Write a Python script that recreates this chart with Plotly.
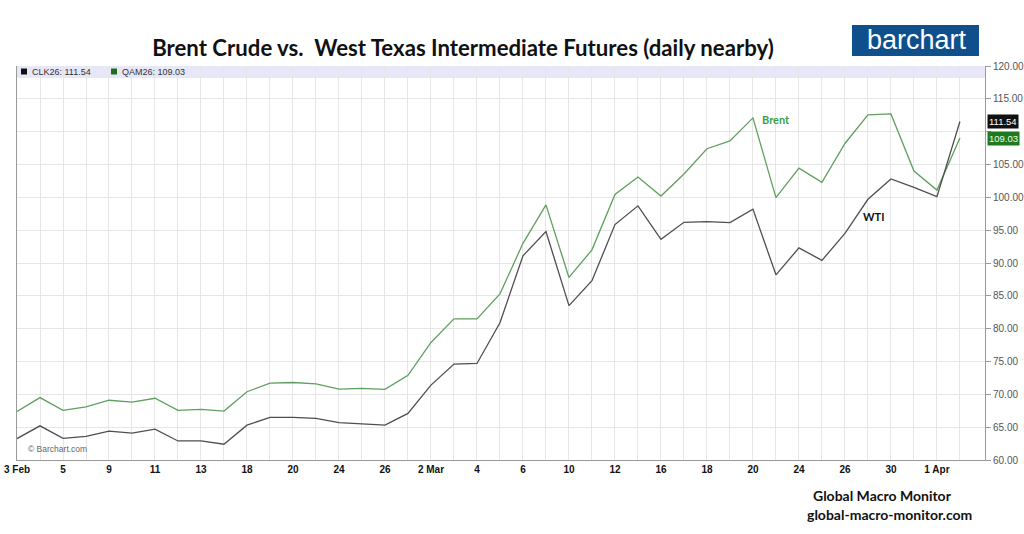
import plotly.graph_objects as go

dates = ["2026-02-03", "2026-02-04", "2026-02-05", "2026-02-06", "2026-02-09", "2026-02-10",
         "2026-02-11", "2026-02-12", "2026-02-13", "2026-02-17", "2026-02-18", "2026-02-19",
         "2026-02-20", "2026-02-23", "2026-02-24", "2026-02-25", "2026-02-26", "2026-02-27",
         "2026-03-02", "2026-03-03", "2026-03-04", "2026-03-05", "2026-03-06", "2026-03-09",
         "2026-03-10", "2026-03-11", "2026-03-12", "2026-03-13", "2026-03-16", "2026-03-17",
         "2026-03-18", "2026-03-19", "2026-03-20", "2026-03-23", "2026-03-24", "2026-03-25",
         "2026-03-26", "2026-03-27", "2026-03-30", "2026-03-31", "2026-04-01", "2026-04-02"]

brent = [67.4, 69.5, 67.55, 68.1, 69.1, 68.8, 69.4, 67.55, 67.7, 67.45, 70.4, 71.7,
         71.8, 71.6, 70.8, 70.9, 70.75, 72.9, 77.9, 81.5, 81.5, 85.3, 93.0, 98.85,
         87.8, 92.0, 100.45, 103.1, 100.2, 103.55, 107.4, 108.6, 112.1, 99.95, 104.45, 102.3,
         108.2, 112.55, 112.7, 104.0, 101.1, 109.03]

wti = [63.26, 65.2, 63.3, 63.6, 64.4, 64.1, 64.7, 62.9, 62.9, 62.4, 65.3, 66.5,
       66.5, 66.35, 65.7, 65.5, 65.3, 67.1, 71.4, 74.6, 74.7, 80.9, 91.1, 94.8,
       83.5, 87.3, 95.85, 98.7, 93.6, 96.2, 96.3, 96.15, 98.2, 88.2, 92.3, 90.4,
       94.5, 99.7, 102.8, 101.5, 100.1, 111.54]

tick_labels = ["3 Feb", "", "5", "", "9", "", "11", "", "13", "", "18", "", "20", "", "24", "",
               "26", "", "2 Mar", "", "4", "", "6", "", "10", "", "12", "", "16", "", "18", "",
               "20", "", "24", "", "26", "", "30", "", "1 Apr", ""]

y_ticks = [60, 65, 70, 75, 80, 85, 90, 95, 100, 105, 110, 115, 120]
y_hidden = [110]  # covered by the last-value boxes in the reference

title_text = "Brent Crude vs.  West Texas Intermediate Futures (daily nearby)"
wti_code = "CLK26"
brent_code = "QAM26"

BRENT_COLOR = "#5f9f5f"
WTI_COLOR = "#4f4f4f"
GRID = "#e6e6e6"
AXIS = "#9a9a9a"

# plot area in page pixels
L, R, T, B = 17, 985, 66, 460
W, H = 1024, 534
PW, PH = R - L, B - T


def px(x):
    return (x - L) / PW


def py(y):
    return (B - y) / PH


fig = go.Figure()
fig.add_trace(go.Scatter(x=dates, y=brent, mode="lines", name="Brent",
                         line=dict(color=BRENT_COLOR, width=1.3)))
fig.add_trace(go.Scatter(x=dates, y=wti, mode="lines", name="WTI",
                         line=dict(color=WTI_COLOR, width=1.3)))

# legend band at top of plot area
fig.add_shape(type="rect", xref="paper", yref="paper", x0=0, x1=1, y0=py(78), y1=1.0,
              fillcolor="#e7e7f8", line=dict(width=0), layer="below")
# legend squares
fig.add_shape(type="rect", xref="paper", yref="paper", x0=px(21), x1=px(27), y0=py(74.5), y1=py(68.5),
              fillcolor="#111111", line=dict(width=0))
fig.add_shape(type="rect", xref="paper", yref="paper", x0=px(111), x1=px(117), y0=py(74.5), y1=py(68.5),
              fillcolor="#1f6b1f", line=dict(width=0))

# barchart logo box
fig.add_shape(type="rect", xref="paper", yref="paper",
              x0=px(852), x1=px(979), y0=py(56), y1=py(25),
              fillcolor="#0e4f8c", line=dict(width=0))

annotations = [
    dict(text=f"{wti_code}: {wti[-1]:.2f}", xref="paper", yref="paper", x=px(30), y=py(71.5),
         xanchor="left", yanchor="middle", showarrow=False,
         font=dict(family="Liberation Sans, Arial", size=9, color="#333333")),
    dict(text=f"{brent_code}: {brent[-1]:.2f}", xref="paper", yref="paper", x=px(120), y=py(71.5),
         xanchor="left", yanchor="middle", showarrow=False,
         font=dict(family="Liberation Sans, Arial", size=9, color="#333333")),
    # right-side last value boxes
    dict(text=f"{wti[-1]:.2f}", xref="paper", yref="y", x=px(987), y=wti[-1],
         xanchor="left", yanchor="middle", showarrow=False, bgcolor="#111111", borderpad=1,
         font=dict(family="Liberation Sans, Arial", size=9.5, color="#ffffff")),
    dict(text=f"{brent[-1]:.2f}", xref="paper", yref="y", x=px(987), y=brent[-1],
         xanchor="left", yanchor="middle", showarrow=False, bgcolor="#1f7a1f", borderpad=1,
         font=dict(family="Liberation Sans, Arial", size=9.5, color="#e8ffe8")),
    # series labels
    dict(text="<b>Brent</b>", x=dates[33], y=brent[32] - 0.3, xref="x", yref="y",
         xanchor="center", yanchor="middle", showarrow=False,
         font=dict(family="Lato, Open Sans", size=11, color="#3aa04a")),
    dict(text="<b>WTI</b>", x=dates[37], y=wti[37] - 2.6, xref="x", yref="y", xshift=6,
         xanchor="center", yanchor="middle", showarrow=False,
         font=dict(family="Lato, Open Sans", size=11, color="#111111")),
    dict(text="© Barchart.com", xref="paper", yref="paper", x=px(26), y=py(449),
         xanchor="left", yanchor="middle", showarrow=False,
         font=dict(family="Liberation Sans, Arial", size=8.5, color="#666666")),
    # logo text
    dict(text="barchart", xref="paper", yref="paper", x=px(917), y=py(40),
         xanchor="center", yanchor="middle", showarrow=False,
         font=dict(family="Liberation Sans, Arial", size=27, color="#ffffff")),
    # bottom right credits
    dict(text="<b>Global Macro Monitor</b>", xref="paper", yref="paper",
         x=px(882), y=py(495), xanchor="center", yanchor="middle",
         showarrow=False, font=dict(family="Lato, Open Sans", size=14, color="#111111")),
    dict(text="<b>global-macro-monitor.com</b>", xref="paper", yref="paper",
         x=px(889), y=py(514), xanchor="center", yanchor="middle",
         showarrow=False, font=dict(family="Lato, Open Sans", size=14, color="#111111")),
]

fig.update_layout(
    width=W, height=H,
    margin=dict(l=L, r=W - R, t=T, b=H - B, autoexpand=False),
    paper_bgcolor="#ffffff", plot_bgcolor="#ffffff",
    showlegend=False,
    title=dict(text=f"<b>{title_text}</b>", x=463 / W, xanchor="center",
               y=1 - 48 / H, yanchor="middle",
               font=dict(family="Lato, Open Sans", size=22.2, color="#111111")),
    annotations=annotations,
    xaxis=dict(type="category", range=[0, 42.09], tickmode="array", automargin=False,
               tickvals=dates, ticktext=[f"<b>{t}</b>" if t else "" for t in tick_labels],
               tickangle=0, showgrid=True, gridcolor=GRID, gridwidth=1,
               showline=True, linecolor=AXIS, linewidth=1, mirror=False,
               ticks="", tickfont=dict(family="Liberation Sans, Arial", size=10, color="#111111"),
               zeroline=False),
    yaxis=dict(side="right", range=[60, 120], tickmode="array", automargin=False,
               tickvals=y_ticks,
               ticktext=["" if v in y_hidden else f"{v:.2f}" for v in y_ticks],
               showgrid=True, gridcolor=GRID, gridwidth=1,
               showline=True, linecolor=AXIS, linewidth=1, mirror=True,
               ticks="outside", ticklen=5, tickcolor=AXIS,
               tickfont=dict(family="Liberation Sans, Arial", size=10, color="#555555"),
               zeroline=False),
)

fig.write_html("out.html", config={"displayModeBar": False},
               post_script="document.body.style.margin='0';")
